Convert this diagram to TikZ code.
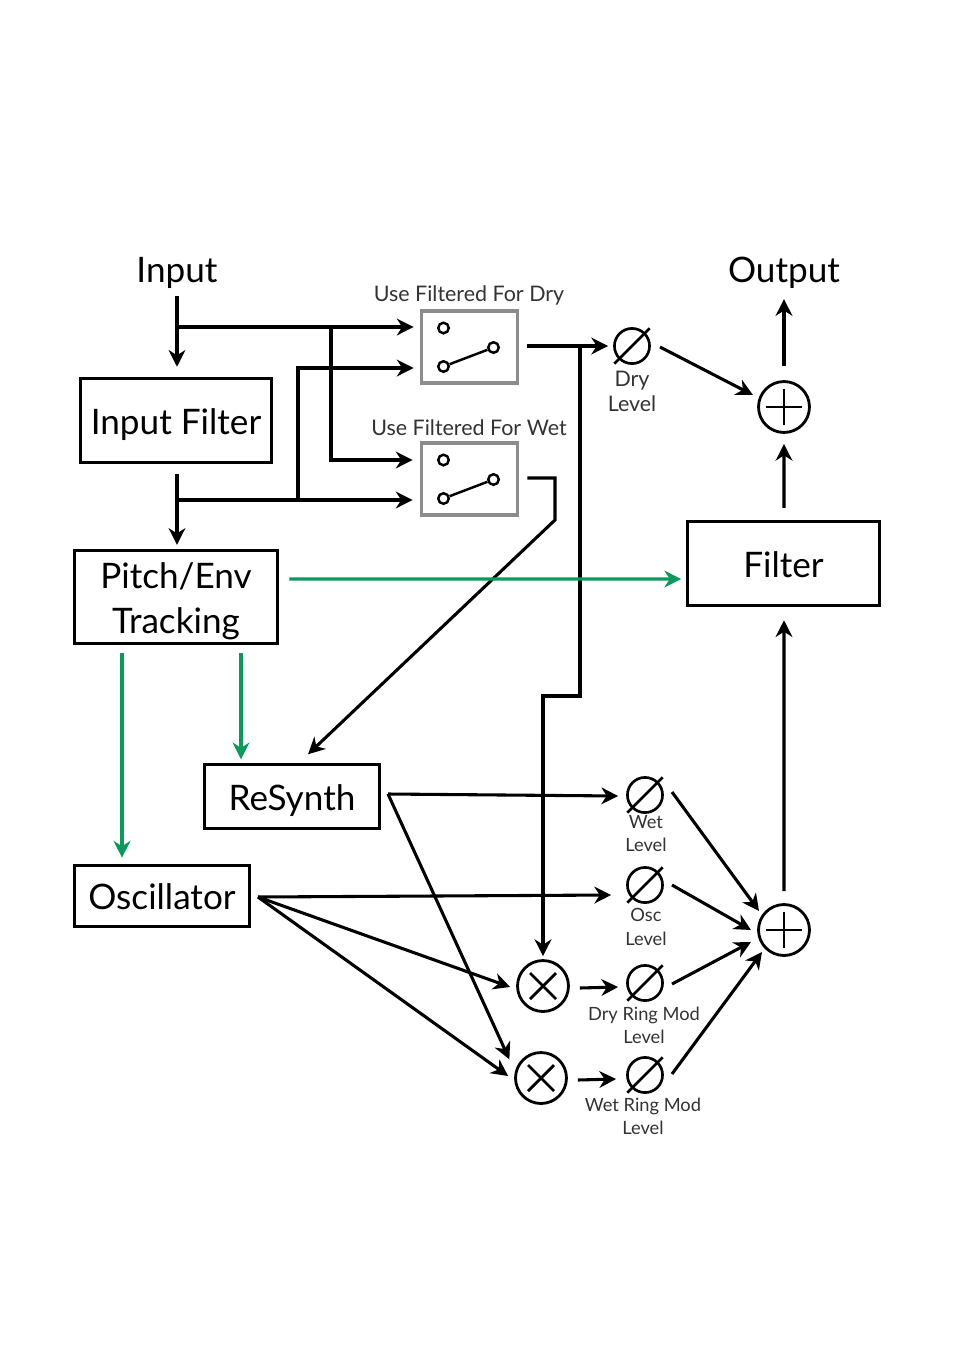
\documentclass[tikz,border=0pt]{standalone}
\usepackage{fontspec}
\setmainfont{Lato}
\usetikzlibrary{arrows.meta}
\definecolor{trackgreen}{HTML}{0B9A5B}
\tikzset{
  >={Stealth[length=9.5pt,width=9.5pt,inset=3pt]},
  wire/.style={line width=1.75pt},
  ctrl/.style={line width=1.9pt, color=trackgreen},
  block/.style={draw, line width=1.8pt, inner sep=0pt, align=center, font=\fontsize{20}{25.6}\selectfont},
  oneline/.style={text height=19.6pt, text depth=4pt},
  switchbox/.style={draw=black!45, line width=1.8pt, inner sep=0pt, minimum width=55pt, minimum height=41pt},
  contact/.style={circle, draw, line width=1.4pt, inner sep=0pt, minimum size=6pt},
  knob/.style={circle, draw, line width=1.5pt, inner sep=0pt, minimum size=20pt},
  small/.style={inner sep=0pt, align=center, text=black!80, font=\fontsize{12.2}{13.2}\selectfont},
  tiny/.style={inner sep=0pt, align=center, text=black!80, font=\fontsize{10.4}{13.2}\selectfont},
  big/.style={inner sep=0pt, font=\fontsize{20}{24}\selectfont},
  sum/.style={circle, draw, line width=1.6pt, inner sep=0pt, minimum size=29pt,
    path picture={\draw[line width=1.6pt] (path picture bounding box.north) ++(0,-4pt) -- ++(0,-21pt)
      (path picture bounding box.west) ++(4pt,0) -- ++(21pt,0);}},
  mult/.style={circle, draw, line width=1.6pt, inner sep=0pt, minimum size=29pt,
    path picture={\draw[line width=1.6pt] (path picture bounding box.center) ++(-7.4pt,-7.4pt) -- ++(14.8pt,14.8pt)
      (path picture bounding box.center) ++(-7.4pt,7.4pt) -- ++(14.8pt,-14.8pt);}}
}
\begin{document}
\begin{tikzpicture}[x=0.02cm, y=-0.02cm]
\useasboundingbox (0,0) rectangle (954,1350);

\node (input) at (177,273) [big] {Input};
\node (output) at (784,273) [big] {Output};
\node (inputfilter) at (176,420.5) [block, oneline, minimum width=109pt, minimum height=48pt] {Input Filter};
\node (tracking) at (176,597) [block, minimum width=116pt, minimum height=53pt] {\rule{0pt}{19.5pt}Pitch/Env\\Tracking};
\node (resynth) at (292,796.5) [block, oneline, minimum width=100pt, minimum height=36pt] {ReSynth};
\node (oscillator) at (162,896) [block, oneline, minimum width=100pt, minimum height=35pt] {Oscillator};
\node (filter) at (783.5,563.5) [block, oneline, minimum width=109pt, minimum height=48pt] {Filter};

% switches
\node (drysw) at (469.5,347) [switchbox] {};
\node (wetsw) at (469.5,479) [switchbox] {};
\node (drylabel) at (469,295.5) [small] {Use Filtered For Dry};
\node (wetlabel) at (469,427.5) [small] {Use Filtered For Wet};
\foreach \sw in {drysw, wetsw} {
  \node (\sw A) at ([shift={(-26,-19)}]\sw.center) [contact] {};
  \node (\sw B) at ([shift={(-26,19.5)}]\sw.center) [contact] {};
  \node (\sw C) at ([shift={(24,0.5)}]\sw.center) [contact] {};
  \draw [line width=1.4pt] (\sw B) -- (\sw C);
}

% level knobs
\node (dryknob) at (632,346) [knob] {};
\node (wetknob) at (645,795) [knob] {};
\node (oscknob) at (645,885) [knob] {};
\node (dryrmknob) at (645,983) [knob] {};
\node (wetrmknob) at (645,1075) [knob] {};
\foreach \k in {dryknob, wetknob, oscknob, dryrmknob, wetrmknob}
  \draw [line width=1.5pt, shorten <=-3.5pt, shorten >=-3.5pt] (\k.225) -- (\k.45);

\node (drylevel) at (632,391.5) [small, font=\fontsize{12.2}{14.2}\selectfont] {Dry\\Level};
\node (wetlevel) at (646,833.5) [tiny] {Wet\\Level};
\node (osclevel) at (646,927) [tiny] {Osc\\Level};
\node (dryrmlevel) at (644,1025) [tiny] {Dry Ring Mod\\Level};
\node (wetrmlevel) at (643,1116) [tiny] {Wet Ring Mod\\Level};

\node (topsum) at (784,407) [sum] {};
\node (botsum) at (784,930) [sum] {};
\node (drymult) at (543,986) [mult] {};
\node (wetmult) at (541,1078) [mult] {};

% junctions
\coordinate (inbranch) at (177,327);
\coordinate (intap) at (331,327);
\coordinate (filtbranch) at (177,500);
\coordinate (filttap) at (298,500);
\coordinate (drybranch) at (580,346);
\coordinate (drybendA) at (580,696);
\coordinate (drybendB) at (543,696);
\coordinate (wetbendA) at (555,478);
\coordinate (wetbendB) at (555,520);
\coordinate (resout) at (388,794);
\coordinate (oscout) at (258,897);

% audio wiring
\draw [wire, ->] ([shift={(0,7)}]input.south) -- ([shift={(1,-10)}]inputfilter.north);
\draw [wire, ->] (inbranch) -- ([shift={(-6,-20)}]drysw.west);
\draw [wire, ->] (intap) |- ([shift={(-7,-19)}]wetsw.west);
\draw [wire, ->] ([shift={(1,10)}]inputfilter.south) -- ([shift={(1,-4)}]tracking.north);
\draw [wire, ->] (filtbranch) -- ([shift={(-7,21)}]wetsw.west);
\draw [wire, ->] (filttap) |- ([shift={(-6,21)}]drysw.west);
\draw [wire, ->] ([shift={(8,-1)}]drysw.east) -- ([shift={(-5,0)}]dryknob.west);
\draw [wire, ->] (drybranch) -- (drybendA) -- (drybendB) -- ([shift={(0,-3)}]drymult.north);
\draw [wire, ->] ([shift={(8,-1)}]wetsw.east) -- (wetbendA) -- (wetbendB) -- ([shift={(16,-9)}]resynth.north);
\draw [wire, ->] (resout) -- ([shift={(-8,1)}]wetknob.west);
\draw [wire, ->] (resout) -- ([shift={(-12.6,0.4)}]wetmult.north west);
\draw [wire, ->] (oscout) -- ([shift={(-15,10)}]oscknob.west);
\draw [wire, ->] (oscout) -- ([shift={(-6,1)}]drymult.west);
\draw [wire, ->] (oscout) -- ([shift={(-6,-2)}]wetmult.west);
\draw [wire, ->] ([shift={(10,2)}]drymult.east) -- ([shift={(-8,4)}]dryrmknob.west);
\draw [wire, ->] ([shift={(10,2)}]wetmult.east) -- ([shift={(-10,4)}]wetrmknob.west);
\draw [wire, ->] ([shift={(28,1)}]dryknob.center) -- ([shift={(-31,-12)}]topsum.center);
\draw [wire, ->] ([shift={(27,-3)}]wetknob.center) -- ([shift={(-25,-19)}]botsum.center);
\draw [wire, ->] ([shift={(27,0)}]oscknob.center) -- ([shift={(-33,0)}]botsum.center);
\draw [wire, ->] ([shift={(27,1)}]dryrmknob.center) -- ([shift={(-33,12)}]botsum.center);
\draw [wire, ->] ([shift={(27,-1)}]wetrmknob.center) -- ([shift={(-22,22)}]botsum.center);
\draw [wire, ->] ([shift={(0,-12)}]botsum.north) -- ([shift={(0.5,13)}]filter.south);
\draw [wire, ->] ([shift={(0.5,-12)}]filter.north) -- ([shift={(0,10)}]topsum.south);
\draw [wire, ->] ([shift={(0,-14)}]topsum.north) -- ([shift={(0,10)}]output.south);

% tracking control
\draw [ctrl, ->] ([shift={(10,-18)}]tracking.east) -- ([shift={(-5,15.5)}]filter.west);
\draw [ctrl, ->] ([shift={(-54,8)}]tracking.south) -- ([shift={(-40,-6)}]oscillator.north);
\draw [ctrl, ->] ([shift={(65,8)}]tracking.south) -- ([shift={(-51,-4)}]resynth.north);
\end{tikzpicture}
\end{document}
